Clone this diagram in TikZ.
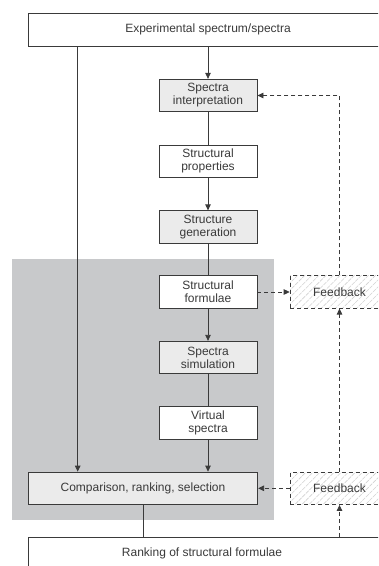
\documentclass[tikz,border=0pt]{standalone}
\usepackage{fontspec}
\setmainfont{Liberation Sans}
\usetikzlibrary{arrows.meta,patterns.meta,calc}
\definecolor{ln}{HTML}{3A3A3A}
\definecolor{region}{HTML}{C8C9CB}
\definecolor{boxfill}{HTML}{EBEBEB}
\definecolor{hatch}{HTML}{D2D2D2}
\tikzset{
  every node/.style={font=\fontsize{12bp}{13bp}\selectfont, text=ln},
  box/.style={draw=ln, line width=0.8bp, fill=white, minimum width=98bp, minimum height=32.5bp, inner sep=0pt, align=center},
  gbox/.style={box, fill=boxfill},
  fbbox/.style={draw=ln, line width=0.8bp, dash pattern=on 4bp off 3bp, minimum width=99bp, minimum height=32.5bp, inner sep=0pt,
     preaction={fill=white}, pattern={Lines[angle=45,distance=5bp,line width=0.6bp]}, pattern color=hatch},
  conn/.style={draw=ln, line width=0.8bp},
  arr/.style={conn, -{Triangle[length=6bp,width=5.5bp]}},
  dconn/.style={conn, dash pattern=on 4bp off 3bp},
  darr/.style={arr, dash pattern=on 4bp off 3bp},
}
\begin{document}
\begin{tikzpicture}[x=1bp,y=-1bp]
\useasboundingbox (0,0) rectangle (378,566);
\clip (0,0) rectangle (378,566);
\fill[white] (0,0) rectangle (378,566);
\fill[region] (12,259) rectangle (274,520);

\node[box, minimum width=360bp, minimum height=33bp] (top) at (208,29.5) {Experimental spectrum/spectra};
\node[gbox] (interp) at (208,95.5) {Spectra\\interpretation};
\node[box] (props) at (208,161.2) {Structural\\properties};
\node[gbox] (gen) at (208,227) {Structure\\generation};
\node[box] (form) at (208,292) {Structural\\formulae};
\node[gbox] (sim) at (208,357.5) {Spectra\\simulation};
\node[box] (virt) at (208,422.8) {Virtual\\spectra};
\node[gbox, minimum width=229.4bp] (comp) at (143,488.3) {Comparison, ranking, selection};
\node[box, minimum width=360bp, minimum height=33bp] (rank) at (208,553.5) {};
\node (ranktxt) at (202,553.5) {Ranking of structural formulae};

\node[fbbox] (fb1) at (339.5,292) {Feedback};
\node[fbbox] (fb2) at (339.5,488.3) {Feedback};

\coordinate (lx) at (77.7,0);

\draw[arr] (top.south -| interp.north) -- (interp.north);
\draw[conn] (interp) -- (props);
\draw[arr] (props) -- (gen);
\draw[conn] (gen) -- (form);
\draw[arr] (form) -- (sim);
\draw[conn] (sim) -- (virt);
\draw[arr] (virt) -- (virt.south |- comp.north);
\draw[arr] (top.south -| lx) -- (comp.north -| lx);
\draw[conn] (comp.south) -- (comp.south |- rank.north);

\draw[darr] (form.east) -- (fb1.west);
\draw[darr] (fb1.north) |- (interp.east);
\draw[darr] (fb2.north) -- (fb1.south);
\draw[darr] (fb2.west) -- (comp.east);
\draw[darr] (fb2.south |- rank.north) -- (fb2.south);
\end{tikzpicture}
\end{document}
